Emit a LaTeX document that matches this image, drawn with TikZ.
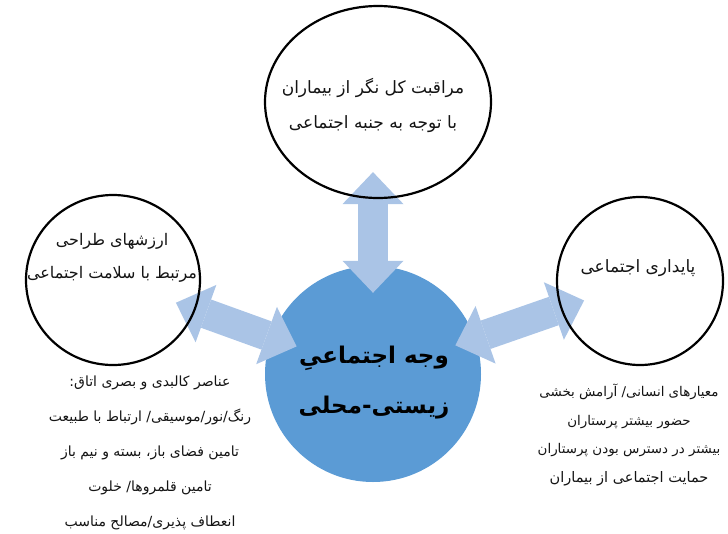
\documentclass[tikz,border=0pt]{standalone}
\usepackage{fontspec}
\newfontfamily\arabicfont[Script=Arabic]{DejaVu Sans}
\TeXXeTstate=1
\usetikzlibrary{shapes.geometric,arrows.meta,calc}
\pgfdeclarelayer{bg}
\pgfsetlayers{bg,main}
\definecolor{midblue}{RGB}{91,155,213}
\definecolor{arrowblue}{RGB}{170,196,230}
\definecolor{inkgray}{RGB}{20,20,20}
\newcommand{\fa}[1]{\beginR #1\endR}

\begin{document}
\begin{tikzpicture}[x=1pt,y=-1pt,
  ring/.style={draw,line width=2.2pt,ellipse,inner sep=0pt},
  farsi/.style={align=center,inner sep=0pt,text=inkgray,font=\arabicfont\fontsize{17}{35}\selectfont},
  dblarrow/.style={draw=arrowblue,line width=30pt,
    {Triangle[length=32pt,width=61pt,line width=0pt]}-{Triangle[length=32pt,width=61pt,line width=0pt]}}]
\useasboundingbox (0,0) rectangle (728,533);
% Rings
\draw (378,102) node[ring,minimum width=226pt,minimum height=192pt](c_top){};
\draw (113,280) node[ring,minimum width=174pt,minimum height=170pt](c_left){};
\draw (640,281) node[ring,minimum width=166pt,minimum height=168pt](c_right){};
% Ring texts
\draw (373,105) node[farsi](t_top){\fa{مراقبت کل نگر از بیماران}\\\fa{با توجه به جنبه اجتماعی}};
\draw (112,258) node[farsi,font=\arabicfont\fontsize{16}{33}\selectfont](t_left){\fa{ارزشهای طراحی}\\\fa{مرتبط با سلامت اجتماعی}};
\draw (638,268) node[farsi](t_right){\fa{پایداری اجتماعی}};
% Lists under the rings
\draw (150,453) node[farsi,font=\arabicfont\fontsize{14}{35}\selectfont](l_left){\fa{عناصر کالبدی و بصری اتاق:}\\\fa{رنگ/نور/موسیقی/ ارتباط با طبیعت}\\\fa{تامین فضای باز، بسته و نیم باز}\\\fa{تامین قلمروها/ خلوت}\\\fa{انعطاف پذیری/مصالح مناسب}};
\draw (629,435) node[farsi,font=\arabicfont\fontsize{13.4}{28.7}\selectfont](l_right){\fa{معیارهای انسانی/ آرامش بخشی}\\\fa{حضور بیشتر پرستاران}\\\fa{بیشتر در دسترس بودن پرستاران}\\\fa{{\fontsize{14.5}{28.7}\selectfont حمایت اجتماعی از بیماران}}};
% Centre and arrows
\begin{pgfonlayer}{bg}
\draw (373,374) node[circle,fill=midblue,minimum size=216pt,inner sep=0pt](c_mid){};
\draw[dblarrow,shorten <=-27pt,shorten >=-27pt] (c_mid.north) -- (c_mid.north |- c_top.south);
\draw[dblarrow,shorten <=-21pt,shorten >=-27pt] (c_left) -- (c_mid);
\draw[dblarrow,shorten <=-21pt,shorten >=-25pt] (c_mid) -- (c_right);
\end{pgfonlayer}
\draw (374,383) node[farsi,text=black,font=\arabicfont\bfseries\fontsize{23}{50}\selectfont](t_mid){\fa{وجه اجتماعیِ}\\\fa{زیستی-محلی}};
\end{tikzpicture}
\end{document}
